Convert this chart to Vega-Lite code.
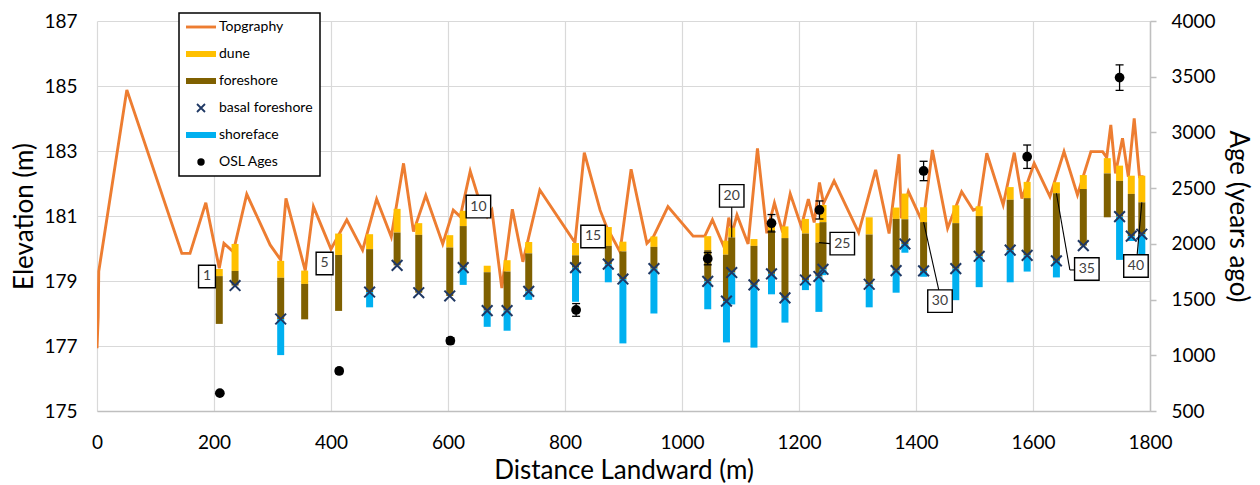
{
  "$schema": "https://vega.github.io/schema/vega-lite/v6.json",
  "width": 1053,
  "height": 390,
  "autosize": "none",
  "padding": {"left": 97, "top": 21, "right": 110, "bottom": 74},
  "background": "white",
  "config": {
    "view": {"stroke": null},
    "font": "Lato",
    "axis": {
      "labelFont": "Lato", "labelFontSize": 19, "labelColor": "#000",
      "titleFont": "Lato", "titleFontSize": 26, "titleFontWeight": "normal", "titleColor": "#000",
      "gridColor": "#D9D9D9", "gridWidth": 1.2, "domainColor": "#BFBFBF", "domainWidth": 1.5, "tickColor": "#BFBFBF"
    }
  },
  "datasets": {
    "topo": [
      {"d": 0, "e": 176.93}, {"d": 2, "e": 177.9}, {"d": 3, "e": 179.3}, {"d": 51, "e": 184.88},
      {"d": 145, "e": 179.85}, {"d": 159, "e": 179.85}, {"d": 186, "e": 181.41}, {"d": 209, "e": 179.39},
      {"d": 217, "e": 180.16}, {"d": 233, "e": 179.9}, {"d": 256, "e": 181.67}, {"d": 296, "e": 180.11},
      {"d": 314, "e": 179.65}, {"d": 323, "e": 181.54}, {"d": 356, "e": 179.32}, {"d": 370, "e": 181.29},
      {"d": 400, "e": 179.98}, {"d": 427, "e": 180.88}, {"d": 454, "e": 179.95}, {"d": 478, "e": 181.52},
      {"d": 503, "e": 180.36}, {"d": 524, "e": 182.62}, {"d": 541, "e": 180.52}, {"d": 562, "e": 181.63},
      {"d": 591, "e": 180.14}, {"d": 609, "e": 181.18}, {"d": 621, "e": 180.98}, {"d": 638, "e": 182.38},
      {"d": 655, "e": 181.39}, {"d": 667, "e": 180.98}, {"d": 675, "e": 181.18}, {"d": 692, "e": 178.78},
      {"d": 710, "e": 181.21}, {"d": 728, "e": 179.59}, {"d": 757, "e": 181.8}, {"d": 817, "e": 180.18},
      {"d": 833, "e": 182.95}, {"d": 860, "e": 181.18}, {"d": 871, "e": 180.67}, {"d": 894, "e": 179.9},
      {"d": 913, "e": 182.44}, {"d": 940, "e": 180.16}, {"d": 951, "e": 180.36}, {"d": 976, "e": 181.29},
      {"d": 1019, "e": 180.38}, {"d": 1039, "e": 180.38}, {"d": 1052, "e": 180.88}, {"d": 1073, "e": 180.0},
      {"d": 1080, "e": 180.95}, {"d": 1086, "e": 180.5}, {"d": 1094, "e": 181.03}, {"d": 1113, "e": 180.14},
      {"d": 1129, "e": 183.08}, {"d": 1145, "e": 180.47}, {"d": 1158, "e": 181.4}, {"d": 1172, "e": 180.5},
      {"d": 1185, "e": 181.68}, {"d": 1204, "e": 180.68}, {"d": 1216, "e": 181.52}, {"d": 1226, "e": 180.8},
      {"d": 1235, "e": 182.03}, {"d": 1242, "e": 181.39}, {"d": 1260, "e": 182.08}, {"d": 1302, "e": 180.49},
      {"d": 1331, "e": 182.42}, {"d": 1354, "e": 180.46}, {"d": 1371, "e": 182.9}, {"d": 1375, "e": 180.93},
      {"d": 1387, "e": 181.75}, {"d": 1412, "e": 180.77}, {"d": 1428, "e": 183.03}, {"d": 1454, "e": 180.62},
      {"d": 1478, "e": 181.75}, {"d": 1498, "e": 181.18}, {"d": 1507, "e": 181.25}, {"d": 1521, "e": 182.93},
      {"d": 1549, "e": 181.34}, {"d": 1568, "e": 182.95}, {"d": 1581, "e": 181.54}, {"d": 1602, "e": 182.62},
      {"d": 1629, "e": 181.6}, {"d": 1653, "e": 182.98}, {"d": 1676, "e": 181.65}, {"d": 1699, "e": 182.98},
      {"d": 1719, "e": 182.98}, {"d": 1726, "e": 182.8}, {"d": 1733, "e": 183.8}, {"d": 1741, "e": 182.31},
      {"d": 1753, "e": 183.39}, {"d": 1763, "e": 182.21}, {"d": 1773, "e": 184.0}, {"d": 1782, "e": 182.21},
      {"d": 1789, "e": 182.21}
    ],
    "cores": [
      {"core": 1, "d": 209, "dt": 179.37, "ft": 179.15, "fb": 177.68, "bf": null, "sb": null},
      {"core": 2, "d": 236, "dt": 180.14, "ft": 179.31, "fb": 178.86, "bf": 178.86, "sb": null},
      {"core": 3, "d": 314, "dt": 179.62, "ft": 179.1, "fb": 177.83, "bf": 177.83, "sb": 176.72},
      {"core": 4, "d": 355, "dt": 179.32, "ft": 178.91, "fb": 177.82, "bf": null, "sb": null},
      {"core": 5, "d": 413, "dt": 180.46, "ft": 179.8, "fb": 178.08, "bf": null, "sb": null},
      {"core": 6, "d": 466, "dt": 180.44, "ft": 179.98, "fb": 178.66, "bf": 178.66, "sb": 178.19},
      {"core": 7, "d": 513, "dt": 181.22, "ft": 180.49, "fb": 179.48, "bf": 179.48, "sb": null},
      {"core": 8, "d": 550, "dt": 180.78, "ft": 180.42, "fb": 178.64, "bf": 178.64, "sb": null},
      {"core": 9, "d": 603, "dt": 180.41, "ft": 180.03, "fb": 178.54, "bf": 178.54, "sb": null},
      {"core": 10, "d": 626, "dt": 181.16, "ft": 180.69, "fb": 179.41, "bf": 179.41, "sb": 178.88},
      {"core": 11, "d": 667, "dt": 179.47, "ft": 179.27, "fb": 178.09, "bf": 178.09, "sb": 177.59},
      {"core": 12, "d": 701, "dt": 179.64, "ft": 179.29, "fb": 178.09, "bf": 178.09, "sb": 177.47},
      {"core": 13, "d": 738, "dt": 180.2, "ft": 179.85, "fb": 178.68, "bf": 178.68, "sb": 178.42},
      {"core": 14, "d": 818, "dt": 180.17, "ft": 179.79, "fb": 179.41, "bf": 179.41, "sb": 178.36},
      {"core": 15, "d": 874, "dt": 180.66, "ft": 180.08, "fb": 179.52, "bf": 179.52, "sb": 178.96},
      {"core": 16, "d": 899, "dt": 180.21, "ft": 179.91, "fb": 179.06, "bf": 179.06, "sb": 177.08},
      {"core": 17, "d": 952, "dt": 180.37, "ft": 180.05, "fb": 179.38, "bf": 179.38, "sb": 178.0},
      {"core": 18, "d": 1044, "dt": 180.38, "ft": 179.95, "fb": 178.99, "bf": 178.99, "sb": 178.13},
      {"core": 19, "d": 1076, "dt": 180.24, "ft": 179.81, "fb": 178.38, "bf": 178.38, "sb": 177.11},
      {"core": 20, "d": 1085, "dt": 180.64, "ft": 180.34, "fb": 179.26, "bf": 179.26, "sb": 178.28},
      {"core": 21, "d": 1123, "dt": 180.29, "ft": 180.08, "fb": 178.88, "bf": 178.88, "sb": 176.95},
      {"core": 22, "d": 1153, "dt": 180.85, "ft": 180.57, "fb": 179.22, "bf": 179.22, "sb": 178.59},
      {"core": 23, "d": 1176, "dt": 180.68, "ft": 180.32, "fb": 178.48, "bf": 178.48, "sb": 177.72},
      {"core": 24, "d": 1211, "dt": 180.91, "ft": 180.46, "fb": 179.03, "bf": 179.03, "sb": 178.72},
      {"core": 25, "d": 1234, "dt": 180.78, "ft": 180.18, "fb": 179.14, "bf": 179.14, "sb": 178.05},
      {"core": 26, "d": 1241, "dt": 181.34, "ft": 180.81, "fb": 179.36, "bf": 179.36, "sb": 179.18},
      {"core": 27, "d": 1320, "dt": 180.96, "ft": 180.43, "fb": 178.9, "bf": 178.9, "sb": 178.19},
      {"core": 28, "d": 1366, "dt": 181.26, "ft": 180.91, "fb": 179.32, "bf": 179.32, "sb": 178.64},
      {"core": 29, "d": 1381, "dt": 181.69, "ft": 180.9, "fb": 180.14, "bf": 180.14, "sb": 179.87},
      {"core": 30, "d": 1413, "dt": 181.27, "ft": 180.81, "fb": 179.31, "bf": 179.31, "sb": 179.13},
      {"core": 31, "d": 1468, "dt": 181.33, "ft": 180.78, "fb": 179.38, "bf": 179.38, "sb": 178.41},
      {"core": 32, "d": 1508, "dt": 181.3, "ft": 181.0, "fb": 179.76, "bf": 179.76, "sb": 178.81},
      {"core": 33, "d": 1561, "dt": 181.89, "ft": 181.5, "fb": 179.95, "bf": 179.95, "sb": 178.96},
      {"core": 34, "d": 1590, "dt": 182.05, "ft": 181.55, "fb": 179.79, "bf": 179.79, "sb": 179.29},
      {"core": 35, "d": 1640, "dt": 182.04, "ft": 181.7, "fb": 179.62, "bf": 179.62, "sb": 179.11},
      {"core": 36, "d": 1686, "dt": 182.26, "ft": 181.83, "fb": 180.09, "bf": 180.09, "sb": null},
      {"core": 37, "d": 1727, "dt": 182.78, "ft": 182.31, "fb": 180.96, "bf": null, "sb": null},
      {"core": 38, "d": 1748, "dt": 182.55, "ft": 182.08, "fb": 180.98, "bf": 180.98, "sb": 179.65},
      {"core": 39, "d": 1768, "dt": 182.24, "ft": 181.68, "fb": 180.38, "bf": 180.38, "sb": 180.23},
      {"core": 40, "d": 1786, "dt": 182.24, "ft": 181.42, "fb": 180.44, "bf": 180.44, "sb": 179.8}
    ],
    "osl": [
      {"d": 210, "age": 660, "lo": 652, "hi": 668},
      {"d": 414, "age": 859, "lo": 836, "hi": 882},
      {"d": 604, "age": 1131, "lo": 1105, "hi": 1157},
      {"d": 819, "age": 1407, "lo": 1350, "hi": 1464},
      {"d": 1044, "age": 1867, "lo": 1812, "hi": 1922},
      {"d": 1153, "age": 2185, "lo": 2107, "hi": 2263},
      {"d": 1235, "age": 2304, "lo": 2223, "hi": 2385},
      {"d": 1413, "age": 2654, "lo": 2567, "hi": 2741},
      {"d": 1590, "age": 2782, "lo": 2677, "hi": 2887},
      {"d": 1748, "age": 3492, "lo": 3377, "hi": 3607}
    ],
    "labels": [
      {"label": "1", "lx": 188, "ly": 179.14},
      {"label": "5", "lx": 389, "ly": 179.54},
      {"label": "10", "lx": 652, "ly": 181.29},
      {"label": "15", "lx": 848, "ly": 180.37},
      {"label": "20", "lx": 1085, "ly": 181.62},
      {"label": "25", "lx": 1274, "ly": 180.15},
      {"label": "30", "lx": 1441, "ly": 178.38},
      {"label": "35", "lx": 1692, "ly": 179.37},
      {"label": "40", "lx": 1776, "ly": 179.46}
    ],
    "leaders": [
      {"x1": 1085, "y1": 180.34, "x2": 1085, "y2": 181.28},
      {"x1": 1234, "y1": 180.18, "x2": 1253, "y2": 180.15},
      {"x1": 1413, "y1": 180.81, "x2": 1439, "y2": 178.72},
      {"x1": 1640, "y1": 181.7, "x2": 1663, "y2": 179.34},
      {"x1": 1663, "y1": 179.34, "x2": 1672, "y2": 179.34},
      {"x1": 1786, "y1": 181.42, "x2": 1778, "y2": 179.8}
    ]
  },
  "resolve": {"scale": {"y": "independent"}},
  "layer": [
    {
      "layer": [
        {
          "data": {"name": "topo"},
          "mark": {"type": "line", "strokeWidth": 2.9, "clip": true},
          "encoding": {
            "x": {"field": "d", "type": "quantitative", "title": "Distance Landward (m)",
                  "scale": {"domain": [0, 1800], "nice": false},
                  "axis": {"values": [0, 200, 400, 600, 800, 1000, 1200, 1400, 1600, 1800], "format": "d", "grid": true, "ticks": false, "domain": true, "labelPadding": 22, "titlePadding": 5, "labelFlush": false}},
            "y": {"field": "e", "type": "quantitative", "title": "Elevation (m)",
                  "scale": {"domain": [175, 187], "nice": false, "zero": false},
                  "axis": {"orient": "left", "values": [175, 177, 179, 181, 183, 185, 187], "grid": true, "ticks": false, "domain": false, "labelPadding": 20, "titlePadding": 6}},
            "color": {
              "datum": "Topgraphy",
              "scale": {"domain": ["Topgraphy", "dune", "foreshore", "basal foreshore", "shoreface", "OSL Ages"],
                        "range": ["#ED7D31", "#FFC000", "#7F6000", "#1F3864", "#00B0F0", "#000000"]},
              "legend": {
                "title": null, "orient": "none", "legendX": 82, "legendY": -8,
                "strokeColor": "#000", "fillColor": "#ffffff", "padding": 7,
                "symbolSize": 196, "symbolType": "stroke", "symbolStrokeWidth": 0, "symbolOffset": 8,
                "labelFont": "Lato", "labelFontSize": 14, "labelColor": "#000", "labelOffset": 11,
                "rowPadding": 3, "gridAlign": "all",
                "encode": {
                  "legend": {"update": {"strokeWidth": {"value": 1.5}}},
                  "symbols": {"update": {
                    "shape": {"signal": "datum.value == 'basal foreshore' ? 'M-1,-1L1,1M-1,1L1,-1' : (datum.value == 'OSL Ages' ? 'circle' : 'stroke')"},
                    "size": {"signal": "datum.value == 'basal foreshore' ? 64 : (datum.value == 'OSL Ages' ? 55 : 900)"},
                    "strokeWidth": {"signal": "datum.value == 'Topgraphy' ? 2.9 : (datum.value == 'basal foreshore' ? 1.8 : (datum.value == 'OSL Ages' ? 0 : 6))"},
                    "stroke": {"scale": "color", "field": "value"},
                    "fill": {"signal": "datum.value == 'OSL Ages' ? '#000000' : 'transparent'"},
                    "opacity": {"value": 1}
                  }}
                }
              }
            }
          }
        },
        {
          "data": {"name": "cores"},
          "mark": {"type": "rule", "strokeWidth": 7},
          "encoding": {
            "x": {"field": "d", "type": "quantitative", "title": "Distance Landward (m)"},
            "y": {"field": "dt", "type": "quantitative", "title": "Elevation (m)"},
            "y2": {"field": "ft"},
            "color": {"datum": "dune"}
          }
        },
        {
          "data": {"name": "cores"},
          "mark": {"type": "rule", "strokeWidth": 7},
          "encoding": {
            "x": {"field": "d", "type": "quantitative", "title": "Distance Landward (m)"},
            "y": {"field": "ft", "type": "quantitative", "title": "Elevation (m)"},
            "y2": {"field": "fb"},
            "color": {"datum": "foreshore"}
          }
        },
        {
          "data": {"name": "cores"},
          "transform": [{"filter": "datum.sb != null"}],
          "mark": {"type": "rule", "strokeWidth": 7},
          "encoding": {
            "x": {"field": "d", "type": "quantitative", "title": "Distance Landward (m)"},
            "y": {"field": "fb", "type": "quantitative", "title": "Elevation (m)"},
            "y2": {"field": "sb"},
            "color": {"datum": "shoreface"}
          }
        },
        {
          "data": {"name": "cores"},
          "transform": [{"filter": "datum.bf != null"}],
          "mark": {"type": "point", "shape": "M-1,-1L1,1M-1,1L1,-1", "filled": false, "strokeWidth": 2, "size": 115, "opacity": 1},
          "encoding": {
            "x": {"field": "d", "type": "quantitative", "title": "Distance Landward (m)"},
            "y": {"field": "bf", "type": "quantitative", "title": "Elevation (m)"},
            "color": {"datum": "basal foreshore"}
          }
        },
        {
          "data": {"name": "leaders"},
          "mark": {"type": "rule", "color": "#000", "strokeWidth": 1.1},
          "encoding": {
            "x": {"field": "x1", "type": "quantitative", "title": "Distance Landward (m)"},
            "y": {"field": "y1", "type": "quantitative", "title": "Elevation (m)"},
            "x2": {"field": "x2"},
            "y2": {"field": "y2"}
          }
        },
        {
          "data": {"name": "labels"},
          "transform": [{"filter": "length(datum.label) == 1"}],
          "mark": {"type": "point", "shape": "M-0.75,-1H0.75V1H-0.75Z", "size": 506, "filled": true, "fill": "#ffffff", "stroke": "#000", "strokeWidth": 1.4, "opacity": 1},
          "encoding": {
            "x": {"field": "lx", "type": "quantitative", "title": "Distance Landward (m)"},
            "y": {"field": "ly", "type": "quantitative", "title": "Elevation (m)"}
          }
        },
        {
          "data": {"name": "labels"},
          "transform": [{"filter": "length(datum.label) == 2"}],
          "mark": {"type": "point", "shape": "M-1,-0.92H1V0.92H-1Z", "size": 600, "filled": true, "fill": "#ffffff", "stroke": "#000", "strokeWidth": 1.4, "opacity": 1},
          "encoding": {
            "x": {"field": "lx", "type": "quantitative", "title": "Distance Landward (m)"},
            "y": {"field": "ly", "type": "quantitative", "title": "Elevation (m)"}
          }
        },
        {
          "data": {"name": "labels"},
          "mark": {"type": "text", "font": "Lato", "fontSize": 14, "color": "#404040", "align": "center", "baseline": "middle"},
          "encoding": {
            "x": {"field": "lx", "type": "quantitative", "title": "Distance Landward (m)"},
            "y": {"field": "ly", "type": "quantitative", "title": "Elevation (m)"},
            "text": {"field": "label"}
          }
        }
      ]
    },
    {
      "data": {"name": "osl"},
      "layer": [
        {
          "mark": {"type": "rule", "color": "#000", "strokeWidth": 1.3},
          "encoding": {
            "x": {"field": "d", "type": "quantitative", "title": "Distance Landward (m)"},
            "y": {"field": "lo", "type": "quantitative", "title": "Age (years ago)",
                  "scale": {"domain": [500, 4000], "nice": false, "zero": false},
                  "axis": {"orient": "right", "values": [500, 1000, 1500, 2000, 2500, 3000, 3500, 4000], "format": "d", "grid": false, "ticks": true, "tickSize": 6, "tickWidth": 1.5, "domain": true, "labelPadding": 15, "titlePadding": 9, "titleFontSize": 26}},
            "y2": {"field": "hi"}
          }
        },
        {
          "mark": {"type": "tick", "orient": "horizontal", "color": "#000", "thickness": 1.3, "size": 8, "opacity": 1},
          "encoding": {
            "x": {"field": "d", "type": "quantitative", "title": "Distance Landward (m)"},
            "y": {"field": "lo", "type": "quantitative", "title": "Age (years ago)"}
          }
        },
        {
          "mark": {"type": "tick", "orient": "horizontal", "color": "#000", "thickness": 1.3, "size": 8, "opacity": 1},
          "encoding": {
            "x": {"field": "d", "type": "quantitative", "title": "Distance Landward (m)"},
            "y": {"field": "hi", "type": "quantitative", "title": "Age (years ago)"}
          }
        },
        {
          "mark": {"type": "point", "filled": true, "size": 95, "opacity": 1},
          "encoding": {
            "x": {"field": "d", "type": "quantitative", "title": "Distance Landward (m)"},
            "y": {"field": "age", "type": "quantitative", "title": "Age (years ago)"},
            "color": {"datum": "OSL Ages"}
          }
        }
      ]
    }
  ]
}
